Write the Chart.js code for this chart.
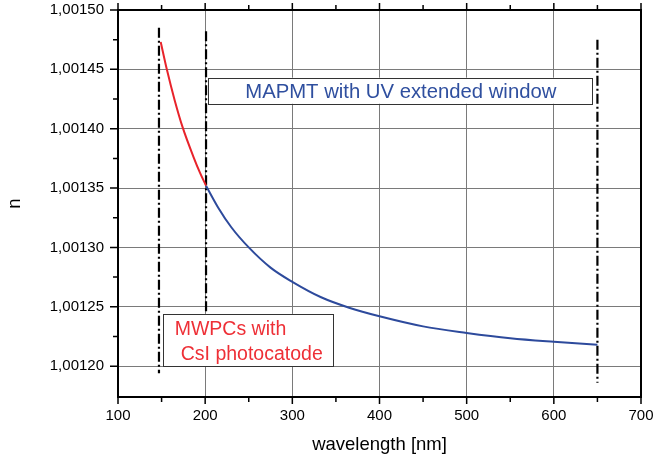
<!DOCTYPE html>
<html>
<head>
<meta charset="utf-8">
<script src="https://cdn.jsdelivr.net/npm/chart.js@4/dist/chart.umd.min.js"></script>
<style>
  html, body { margin: 0; padding: 0; background: #fff; }
  #wrap { width: 654px; height: 462px; }
</style>
</head>
<body>
<div id="wrap"><canvas id="chart"></canvas></div>
<script>
// Refractive index curve
const redWavelength = [149, 156, 165, 174, 187, 194, 201];
const redN = [1.001473, 1.00145, 1.001424, 1.0014015, 1.0013755, 1.001363, 1.001352];

const blueWavelength = [201, 215, 230, 250, 275, 300, 333, 366, 400, 450, 500, 550, 600, 650];
const blueN = [1.001352, 1.0013335, 1.001317, 1.0013, 1.001283, 1.001271, 1.001258, 1.001249,
  1.001242, 1.0012335, 1.001228, 1.0012235, 1.0012205, 1.001218];

// Dash-dot marker lines (detector ranges)
const markerWavelength = [147, 201, 650];
const markerTop = [1.001485, 1.001482, 1.001475];
const markerBottom = [1.001194, 1.001246, 1.001186];

// Axis ticks
const xTicks = [100, 200, 300, 400, 500, 600, 700];
const xMinorTicks = [150, 250, 350, 450, 550, 650];
const yTicks = [1.0012, 1.00125, 1.0013, 1.00135, 1.0014, 1.00145, 1.0015];
const yMinorTicks = [1.001225, 1.001275, 1.001325, 1.001375, 1.001425, 1.001475];

const boxLabels = [
  { lines: ["MAPMT with UV extended window"], color: "#2f4f9f" },
  { lines: ["MWPCs with", "CsI photocatode"], color: "#ee2f36" },
];

const FONT = "'Liberation Sans', Arial, Helvetica, sans-serif";

function toPoints(xs, ys) {
  return xs.map((x, i) => ({ x: x, y: ys[i] }));
}

const datasets = [
  {
    data: toPoints(redWavelength, redN),
    borderColor: "#e8232b",
    borderWidth: 2,
    cubicInterpolationMode: "monotone",
  },
  {
    data: toPoints(blueWavelength, blueN),
    borderColor: "#2d4a9c",
    borderWidth: 2,
    cubicInterpolationMode: "monotone",
  },
];

markerWavelength.forEach((w, i) => {
  datasets.push({
    data: [{ x: w, y: markerTop[i] }, { x: w, y: markerBottom[i] }],
    borderColor: "#000",
    borderWidth: 2.2,
    borderDash: [10, 3, 2, 3],
  });
});

// Label boxes with white fill, drawn over the grid
const boxPlugin = {
  id: "boxes",
  beforeDatasetsDraw(chart) {
    const { ctx, scales } = chart;
    const x = scales.x, y = scales.y;
    const boxes = [
      { x0: 203.2, x1: 643.4, y0: 1.001443, y1: 1.001421, size: 20.3, align: "center", pad: [20], indent: [0] },
      { x0: 151.3, x1: 346.6, y0: 1.001244, y1: 1.0012, size: 19.5, align: "left", pad: [21, 46], indent: [12, 18] },
    ];
    ctx.save();
    boxes.forEach((b, i) => {
      const left = x.getPixelForValue(b.x0);
      const right = x.getPixelForValue(b.x1);
      const top = y.getPixelForValue(b.y0);
      const bottom = y.getPixelForValue(b.y1);
      ctx.fillStyle = "#fff";
      ctx.fillRect(left, top, right - left, bottom - top);
      ctx.strokeStyle = "#333";
      ctx.lineWidth = 1;
      ctx.strokeRect(Math.round(left) + 0.5, Math.round(top) + 0.5, Math.round(right - left), Math.round(bottom - top));
      ctx.fillStyle = boxLabels[i].color;
      ctx.font = b.size + "px " + FONT;
      ctx.textBaseline = "alphabetic";
      boxLabels[i].lines.forEach((line, j) => {
        if (b.align === "center") {
          ctx.textAlign = "center";
          ctx.fillText(line, (left + right) / 2 + 1, top + b.pad[j]);
        } else {
          ctx.textAlign = "left";
          ctx.fillText(line, left + b.indent[j], top + b.pad[j]);
        }
      });
    });
    ctx.restore();
  },
};

// Frame and tick marks
const framePlugin = {
  id: "frame",
  afterDatasetsDraw(chart) {
    const { ctx, chartArea: a, scales } = chart;
    ctx.save();
    ctx.strokeStyle = "#000";
    ctx.lineWidth = 2;
    ctx.strokeRect(a.left, a.top, a.right - a.left, a.bottom - a.top);

    ctx.lineWidth = 1.5;
    ctx.beginPath();
    const xTick = (v, len) => {
      const px = scales.x.getPixelForValue(v);
      ctx.moveTo(px, a.bottom);
      ctx.lineTo(px, a.bottom + len);
      ctx.moveTo(px, a.top);
      ctx.lineTo(px, a.top - len);
    };
    const yTick = (v, len) => {
      const py = scales.y.getPixelForValue(v);
      ctx.moveTo(a.left, py);
      ctx.lineTo(a.left - len, py);
    };
    xTicks.forEach((v) => xTick(v, 7));
    xMinorTicks.forEach((v) => xTick(v, 5));
    yTicks.forEach((v) => yTick(v, 8));
    yMinorTicks.forEach((v) => yTick(v, 5));
    ctx.stroke();
    ctx.restore();
  },
};

new Chart(document.getElementById("chart"), {
  type: "line",
  data: { datasets: datasets },
  options: {
    responsive: true,
    maintainAspectRatio: false,
    animation: false,
    layout: { padding: 0 },
    elements: { point: { radius: 0 }, line: { tension: 0, fill: false } },
    plugins: { legend: { display: false }, tooltip: { enabled: false } },
    scales: {
      x: {
        type: "linear",
        min: 100,
        max: 700,
        afterFit(scale) {
          scale.height = 65;
          scale.paddingLeft = 0;
          scale.paddingRight = 13;
        },
        afterBuildTicks(scale) { scale.ticks = xTicks.map((v) => ({ value: v })); },
        grid: { color: "#7a7a7a", lineWidth: 1, drawTicks: false },
        border: { display: false },
        ticks: {
          color: "#000",
          padding: 10,
          maxRotation: 0,
          font: { family: FONT, size: 15 },
          callback: (v) => String(v),
        },
        title: {
          display: true,
          text: "wavelength [nm]",
          color: "#000",
          font: { family: FONT, size: 18.5 },
          padding: { top: 0, bottom: 6 },
        },
      },
      y: {
        type: "linear",
        min: 1.001174,
        max: 1.0015,
        afterFit(scale) {
          scale.width = 118;
          scale.paddingTop = 10;
          scale.paddingBottom = 0;
        },
        afterBuildTicks(scale) { scale.ticks = yTicks.map((v) => ({ value: v })); },
        grid: { color: "#7a7a7a", lineWidth: 1, drawTicks: false },
        border: { display: false },
        ticks: {
          color: "#000",
          padding: 14,
          font: { family: FONT, size: 15 },
          callback: (v) => v.toFixed(5).replace(".", ","),
        },
        title: {
          display: true,
          text: "n",
          color: "#000",
          font: { family: FONT, size: 18.5 },
          padding: { top: 4, bottom: 0 },
        },
      },
    },
  },
  plugins: [boxPlugin, framePlugin],
});
</script>
</body>
</html>
